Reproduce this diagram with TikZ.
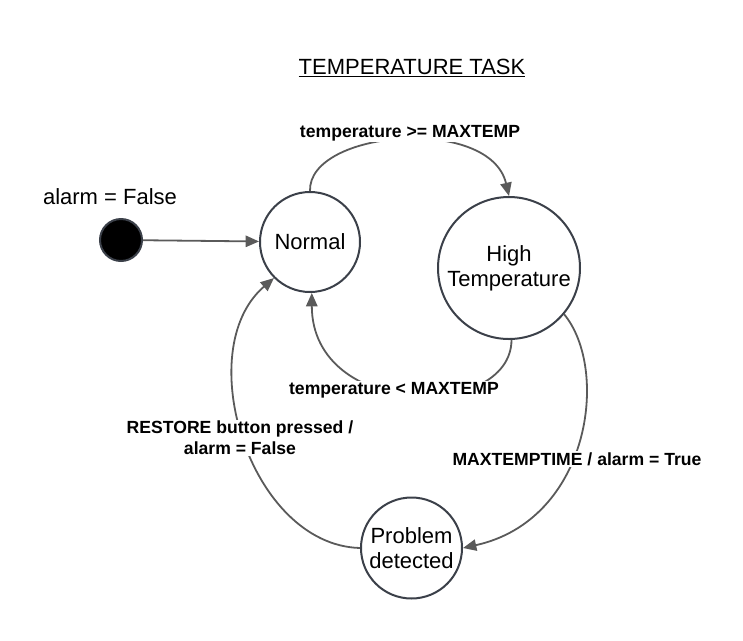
\documentclass[tikz,border=0pt]{standalone}
\usepackage{fontspec}
\setmainfont{Liberation Sans}
\usetikzlibrary{arrows.meta}
\definecolor{edgegray}{HTML}{5A5A5A}
\definecolor{ringcol}{HTML}{3B4049}
\tikzset{
  statebox/.style={circle, draw=ringcol, line width=1.5pt, fill=white, inner sep=0pt, align=center,
     font=\fontsize{16.5}{18.5}\selectfont},
  initdot/.style={circle, draw=ringcol, line width=1.5pt, fill=black, inner sep=0pt, minimum size=31.5pt},
  trans/.style={draw=edgegray, line width=1.35pt, -{Triangle[length=10pt, width=8.5pt]}},
  translabel/.style={fill=white, inner sep=1pt, align=center, font=\fontsize{13.2}{15.75}\selectfont\bfseries},
  plaintext/.style={inner sep=0pt, font=\fontsize{16.5}{18.75}\selectfont}
}
\begin{document}
\begin{tikzpicture}[x=0.75pt, y=-0.75pt]
\useasboundingbox (0,0) rectangle (743,640);
\node[plaintext] (title) at (412,68) {\underline{TEMPERATURE TASK}};
\node[plaintext] (alarmlbl) at (110,197) {alarm = False};
\node[initdot] (init) at (121,240) {};
\node[statebox, minimum size=75pt] (normal) at (310,242) {Normal};
\node[statebox, minimum size=106.5pt] (high) at (509,268) {High\\Temperature};
\node[statebox, minimum size=75.75pt] (problem) at (411.5,548) {Problem\\detected};

\draw[trans] (init) -- (normal);
\draw[trans] (normal.north) .. controls (308,130) and (490,115) .. (high.north);
\draw[trans] (high.-88) .. controls (511,420) and (312,420) .. (normal.-88);
\draw[trans] (high.-40) .. controls (610,370) and (590,520) .. (problem.east);
\draw[trans] (problem.west) .. controls (250,545) and (190,350) .. (normal.225);

\node[translabel] (l1) at (410,133) {temperature >= MAXTEMP};
\node[translabel] (l2) at (394,390) {temperature < MAXTEMP};
\node[translabel] (l3) at (240,438) {RESTORE button pressed /\\alarm = False};
\node[translabel] (l4) at (577,459) {MAXTEMPTIME / alarm = True};
\end{tikzpicture}
\end{document}
